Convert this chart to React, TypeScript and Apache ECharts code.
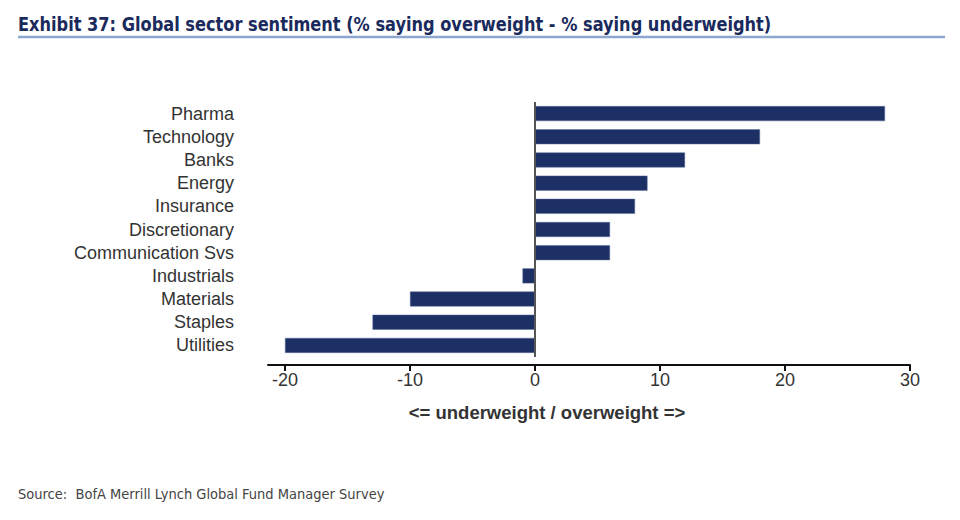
import React, { useEffect, useRef } from "react";
import * as echarts from "echarts";

const categories = [
  "Pharma",
  "Technology",
  "Banks",
  "Energy",
  "Insurance",
  "Discretionary",
  "Communication Svs",
  "Industrials",
  "Materials",
  "Staples",
  "Utilities",
];
const values = [28, 18, 12, 9, 8, 6, 6, -1, -10, -13, -20];
const tickValues = [-20, -10, 0, 10, 20, 30];

const titleText =
  "Exhibit 37: Global sector sentiment (% saying overweight - % saying underweight)";
const axisTitle = "<= underweight / overweight =>";
const sourceText = "Source:  BofA Merrill Lynch Global Fund Manager Survey";

export default function App() {
  const ref = useRef<HTMLDivElement>(null);
  useEffect(() => {
    if (!ref.current) return;
    const chart = echarts.init(ref.current, null, { renderer: "svg" });
    chart.setOption({
      animation: false,
      backgroundColor: "#ffffff",
      grid: { left: 268, right: 50, top: 102, bottom: 163, containLabel: false },
      xAxis: {
        type: "value",
        min: -21.36,
        max: 30,
        offset: 8,
        splitLine: { show: false },
        axisLine: { show: true, onZero: false, lineStyle: { color: "#111", width: 2 } },
        axisTick: {
          show: true,
          length: 6,
          customValues: tickValues,
          lineStyle: { color: "#111", width: 2 },
        },
        axisLabel: {
          customValues: tickValues,
          color: "#333",
          fontSize: 18,
          fontFamily: "'Liberation Sans', Arial, sans-serif",
          margin: 6,
        },
      },
      yAxis: {
        type: "category",
        inverse: true,
        data: categories,
        axisLine: { show: false, onZero: false },
        axisTick: { show: false },
        splitLine: { show: false },
        axisLabel: {
          interval: 0,
          color: "#333",
          fontSize: 18,
          fontFamily: "'Liberation Sans', Arial, sans-serif",
          margin: 34,
          verticalAlign: "middle",
          padding: [0, 0, 10, 0],
        },
      },
      series: [
        {
          type: "bar",
          data: values,
          barWidth: 15,
          itemStyle: { color: "#1c3066", borderColor: "#5d6f99", borderWidth: 0.5 },
          markLine: {
            silent: true,
            symbol: "none",
            label: { show: false },
            lineStyle: { color: "#555", width: 2, type: "solid" },
            data: [{ xAxis: 0 }],
          },
        },
      ],
      graphic: [
        {
          type: "text",
          x: 18,
          y: 14,
          scaleX: 0.9,
          style: {
            text: titleText,
            fill: "#1a2a5c",
            font: "bold 20px 'DejaVu Sans Condensed', sans-serif",
          },
        },
        {
          type: "line",
          shape: { x1: 18, y1: 37, x2: 945, y2: 37 },
          style: { stroke: "#8da7cf", lineWidth: 2.5 },
        },
        {
          type: "text",
          x: 547,
          y: 412,
          style: {
            text: axisTitle,
            fill: "#333",
            align: "center",
            verticalAlign: "middle",
            font: "bold 18.5px 'Liberation Sans', Arial, sans-serif",
          },
        },
        {
          type: "text",
          x: 18,
          y: 486,
          style: {
            text: sourceText,
            fill: "#444",
            font: "14.5px 'DejaVu Sans Condensed', sans-serif",
          },
        },
      ],
    });
    return () => chart.dispose();
  }, []);
  return <div ref={ref} style={{ width: 960, height: 520, position: "absolute", left: 0, top: 0 }} />;
}
